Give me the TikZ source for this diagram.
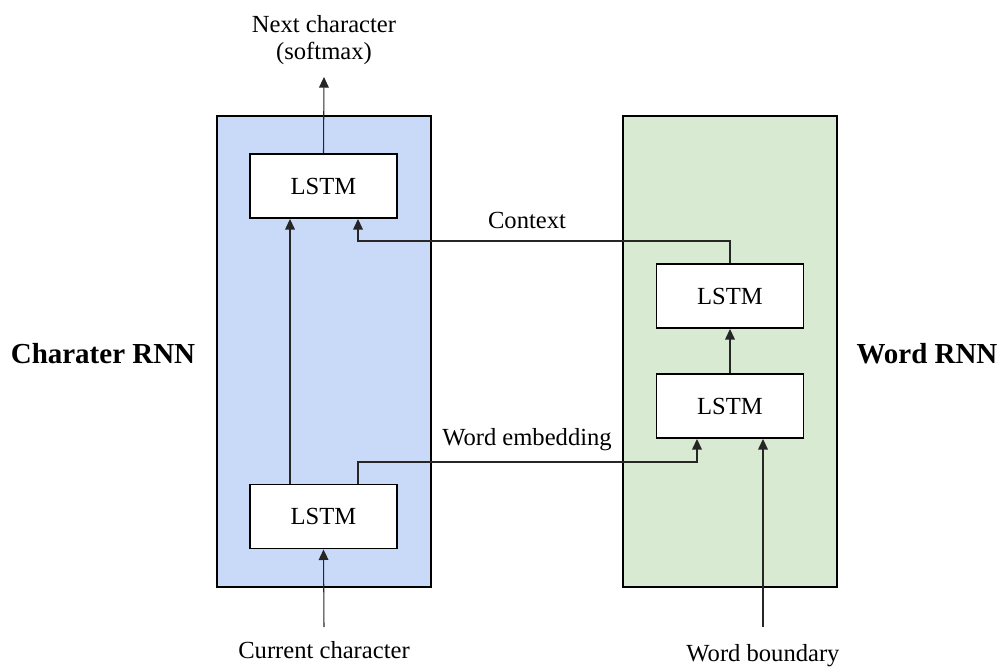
\documentclass[tikz,border=0pt]{standalone}
\usepackage{fontspec}
\setmainfont{LiberationSerif}[Extension=.ttf,UprightFont=*-Regular,BoldFont=*-Bold,ItalicFont=*-Italic,BoldItalicFont=*-BoldItalic]
\usetikzlibrary{arrows.meta}
\definecolor{charfill}{RGB}{201,218,248}
\definecolor{wordfill}{RGB}{217,234,211}
\begin{document}
\begin{tikzpicture}[x=0.02cm,y=-0.02cm,
  container/.style={draw=black,line width=1.1pt,minimum width=4.28cm,minimum height=9.42cm,inner sep=0pt},
  lstm/.style={draw=black,fill=white,line width=1.1pt,minimum width=2.94cm,minimum height=1.28cm,inner sep=0pt,
    font=\fontsize{14}{16}\selectfont},
  lbl/.style={font=\fontsize{14}{15.5}\selectfont,align=center,inner sep=0pt},
  title/.style={font=\fontsize{16.5}{19}\selectfont\bfseries,inner sep=0pt},
  link/.style={draw=black!85,line width=0.6pt,-{Triangle[length=6pt,width=5.5pt]}}]
\useasboundingbox (0,0) rectangle (1002,669);

% RNN containers
\node[container,fill=charfill] (crnn) at (324,351.5) {};
\node[container,fill=wordfill] (wrnn) at (730,351.5) {};

% LSTM cells
\node[lstm] (ctop) at (323.5,186) {LSTM};
\node[lstm] (cbot) at (323.5,516.5) {LSTM};
\node[lstm] (wtop) at (730,296) {LSTM};
\node[lstm] (wbot) at (730,406) {LSTM};

% labels
\node[title] (ctitle) at (103,354) {Charater RNN};
\node[title] (wtitle) at (927,354) {Word RNN};
\node[lbl] (nextc) at (324,40) {Next character\\(softmax)};
\node[lbl] (curc) at (324,650) {Current character};
\node[lbl] (wbound) at (763,656) {Word boundary};
\node[lbl] (ctx) at (527,220) {Context};
\node[lbl] (wemb) at (527,440) {Word embedding};

% free ends of the input/output arrows
\coordinate (outtip) at (324,77);
\coordinate (curstart) at (324,627);
\coordinate (wbstart) at (763,627);

% connectors
\draw[link] (ctop.north) -- (outtip);
\draw[link] (curstart) -- (cbot.south);
\draw[link] (wbstart) -- (wbot.south -| wbstart);
\draw[link] (cbot.north -| 290,0) -- (ctop.south -| 290,0);
\draw[link] (wbot.north) -- (wtop.south);
\draw[link] (wtop.north) |- (358,241) -- (ctop.south -| 358,0);
\draw[link] (cbot.north -| 358,0) |- (697,462) -- (wbot.south -| 697,0);
\end{tikzpicture}
\end{document}
